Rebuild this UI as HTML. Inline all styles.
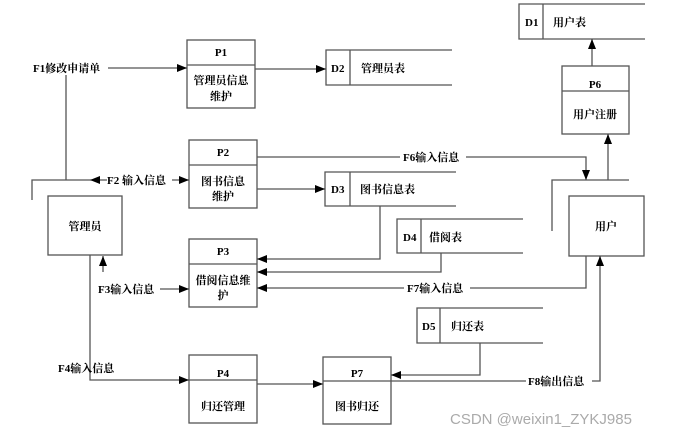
<!DOCTYPE html>
<html><head><meta charset="utf-8"><style>
html,body{margin:0;padding:0;background:#fff;}
svg{display:block;}
text{font-family:"Liberation Serif","Noto Serif CJK SC","Noto Sans CJK SC",serif;font-size:11px;font-weight:bold;fill:#000;}
</style></head><body>
<svg width="691" height="437" viewBox="0 0 691 437" xmlns="http://www.w3.org/2000/svg">
<defs>
<marker id="a" markerWidth="10" markerHeight="8" refX="10" refY="4" orient="auto" markerUnits="userSpaceOnUse">
<path d="M0,0 L10,4 L0,8 z" fill="#000"/></marker>
</defs>
<g fill="none" stroke="#555" stroke-width="1.3">
<!-- process boxes -->
<rect x="187" y="40" width="68" height="68"/><line x1="187" y1="65" x2="255" y2="65"/>
<rect x="189" y="140" width="68" height="68"/><line x1="189" y1="165" x2="257" y2="165"/>
<rect x="189" y="239" width="68" height="68"/><line x1="189" y1="264" x2="257" y2="264"/>
<rect x="189" y="355" width="68" height="68"/><line x1="189" y1="380" x2="257" y2="380"/>
<rect x="323" y="357" width="68" height="67"/><line x1="323" y1="381" x2="391" y2="381"/>
<rect x="562" y="66" width="67" height="68"/><line x1="562" y1="91" x2="629" y2="91"/>
<rect x="48" y="196" width="74" height="59"/>
<rect x="569" y="196" width="75" height="60"/>
<!-- data stores -->
<path d="M645,4 H519 V39 H645 M543,4 V39"/>
<path d="M452,50 H326 V85 H452 M350,50 V85"/>
<path d="M456,172 H325 V206 H456 M350,172 V206"/>
<path d="M523,219 H397 V253 H523 M421,219 V253"/>
<path d="M543,308 H417 V343 H543 M440,308 V343"/>
<!-- lines -->
<path d="M66,180 V75"/>
<path d="M108,68 H187" marker-end="url(#a)"/>
<path d="M32,200 V180 H90"/>
<path d="M107,180 H90" marker-end="url(#a)"/>
<path d="M172,180 H189" marker-end="url(#a)"/>
<path d="M255,69 H326" marker-end="url(#a)"/>
<path d="M257,189 H325" marker-end="url(#a)"/>
<path d="M257,157 H586 V180" marker-end="url(#a)"/>
<path d="M552,231 V180 H629"/>
<path d="M608,180 V134" marker-end="url(#a)"/>
<path d="M592,66 V39" marker-end="url(#a)"/>
<path d="M380,206 V259 H257" marker-end="url(#a)"/>
<path d="M441,253 V272 H257" marker-end="url(#a)"/>
<path d="M586,256 V288 H257" marker-end="url(#a)"/>
<path d="M90,255 V380 H189" marker-end="url(#a)"/>
<path d="M103,272 V256" marker-end="url(#a)"/>
<path d="M160,289 H189" marker-end="url(#a)"/>
<path d="M257,384 H323" marker-end="url(#a)"/>
<path d="M480,343 V375 H391" marker-end="url(#a)"/>
<path d="M391,381 H600 V256" marker-end="url(#a)"/>
</g>
<!-- label backgrounds -->
<g fill="#fff"><rect x="400" y="150" width="66" height="14"/><rect x="404" y="281" width="66" height="14"/><rect x="526" y="374" width="66" height="14"/></g>
<g text-anchor="middle">
<text x="221" y="56">P1</text><text x="221" y="84">管理员信息</text><text x="221" y="100">维护</text>
<text x="223" y="156">P2</text><text x="223" y="185">图书信息</text><text x="223" y="200">维护</text>
<text x="223" y="255">P3</text><text x="223" y="284">借阅信息维</text><text x="223" y="299">护</text>
<text x="223" y="377">P4</text><text x="223" y="410">归还管理</text>
<text x="357" y="377">P7</text><text x="357" y="410">图书归还</text>
<text x="595" y="88">P6</text><text x="595" y="118">用户注册</text>
<text x="85" y="230">管理员</text>
<text x="606" y="230">用户</text>
</g>
<text x="525" y="26">D1</text><text x="553" y="26">用户表</text>
<text x="331" y="72">D2</text><text x="361" y="72">管理员表</text>
<text x="331" y="193">D3</text><text x="360" y="193">图书信息表</text>
<text x="403" y="241">D4</text><text x="429" y="241">借阅表</text>
<text x="422" y="330">D5</text><text x="451" y="330">归还表</text>
<text x="33" y="72">F1修改申请单</text>
<text x="107" y="184">F2 输入信息</text>
<text x="98" y="293">F3输入信息</text>
<text x="58" y="372">F4输入信息</text>
<text x="403" y="161">F6输入信息</text>
<text x="407" y="292">F7输入信息</text>
<text x="528" y="385">F8输出信息</text>
<text x="450" y="424" style="font-family:'Liberation Sans',sans-serif;font-weight:normal;font-size:15px;fill:#aaa">CSDN @weixin1_ZYKJ985</text>
</svg>
</body></html>
